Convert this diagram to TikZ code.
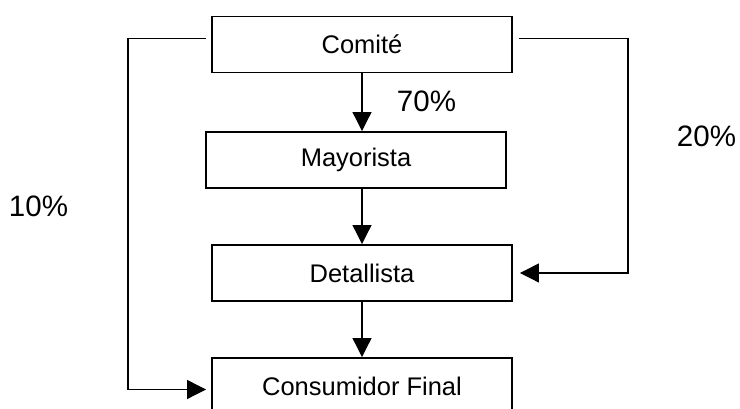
\documentclass[tikz,border=0pt]{standalone}
\usepackage{fontspec}
\setmainfont{Liberation Sans}
\usetikzlibrary{arrows.meta, positioning}

\begin{document}
\begin{tikzpicture}[
        caja/.style={draw, line width=1.1pt, minimum width=6cm, minimum height=1.12cm, inner sep=0pt, font=\fontsize{14.5}{17}\selectfont},
        flecha/.style={-{Triangle[length=0.38cm, width=0.38cm]}, line width=0.7pt},
        porc/.style={font=\fontsize{16.8}{20}\selectfont}
    ]
        \useasboundingbox (0,0) rectangle (14.8,8.18);
        \clip (0,0) rectangle (14.8,8.18);

        % nodes
        \node[caja] (Comite) at (7.24,7.29) {Comité};
        \node[caja] (Mayorista) at (7.12,4.98) {Mayorista};
        \node[caja] (Detallista) at (7.24,2.72) {Detallista};
        \node[caja] (Consumidor) at (7.24,0.46) {Consumidor Final};
        \node[porc] (p70) at (8.53,6.16) {70\%};
        \node[porc] (p20) at (14.13,5.45) {20\%};
        \node[porc] (p10) at (0.77,4.06) {10\%};

        % edges
        \draw[flecha] (Comite.south) -- (Comite.south |- Mayorista.north);
        \draw[flecha] (Mayorista.south -| Detallista.north) -- (Detallista.north);
        \draw[flecha] (Detallista.south) -- (Consumidor.north);

        \draw[flecha] ([xshift=-0.1cm, yshift=0.12cm]Comite.west) -- ++(-1.56,0) |- ([xshift=-0.1cm, yshift=-0.07cm]Consumidor.west);
        \draw[flecha] ([xshift=0.12cm, yshift=0.12cm]Comite.east) -- ++(2.18,0) |- ([xshift=0.14cm]Detallista.east);

    \end{tikzpicture}
\end{document}
